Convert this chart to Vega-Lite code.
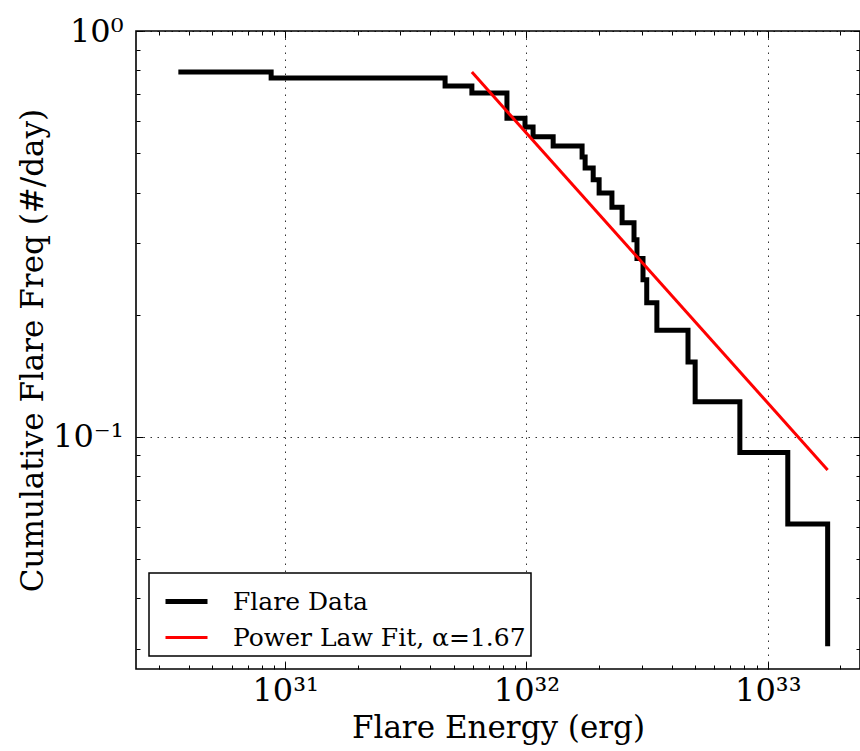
{
  "$schema": "https://vega.github.io/schema/vega-lite/v6.json",
  "width": 724,
  "height": 638,
  "autosize": {"type": "none"},
  "padding": {"left": 136, "top": 31, "right": 0, "bottom": 82},
  "background": "white",
  "config": {
    "font": "DejaVu Serif",
    "view": {"stroke": "black", "strokeWidth": 1.6},
    "axis": {"domain": false, "tickColor": "black", "tickWidth": 1, "labelColor": "black", "titleColor": "black", "labelFont": "DejaVu Serif", "titleFont": "DejaVu Serif", "titleFontWeight": "normal", "labelFlush": false, "labelOverlap": false},
    "legend": {"orient": "bottom-left", "offset": 13, "symbolType": "stroke", "symbolSize": 1764, "symbolOffset": 9, "labelFontSize": 25, "labelFont": "DejaVu Serif", "labelColor": "black", "labelOffset": 23, "padding": 5, "strokeColor": "black", "strokeWidth": 1.5, "fillColor": "white", "rowPadding": -6, "cornerRadius": 0, "labelLimit": 450}
  },
  "datasets": {
    "flare": [
      {"energy": 3.61e30, "freq": 0.793, "series": "Flare Data"},
      {"energy": 8.75e30, "freq": 0.766, "series": "Flare Data"},
      {"energy": 4.60e31, "freq": 0.732, "series": "Flare Data"},
      {"energy": 5.94e31, "freq": 0.703, "series": "Flare Data"},
      {"energy": 8.30e31, "freq": 0.610, "series": "Flare Data"},
      {"energy": 9.86e31, "freq": 0.580, "series": "Flare Data"},
      {"energy": 1.065e32, "freq": 0.549, "series": "Flare Data"},
      {"energy": 1.29e32, "freq": 0.521, "series": "Flare Data"},
      {"energy": 1.70e32, "freq": 0.489, "series": "Flare Data"},
      {"energy": 1.75e32, "freq": 0.460, "series": "Flare Data"},
      {"energy": 1.89e32, "freq": 0.430, "series": "Flare Data"},
      {"energy": 2.00e32, "freq": 0.399, "series": "Flare Data"},
      {"energy": 2.26e32, "freq": 0.368, "series": "Flare Data"},
      {"energy": 2.49e32, "freq": 0.337, "series": "Flare Data"},
      {"energy": 2.79e32, "freq": 0.306, "series": "Flare Data"},
      {"energy": 2.87e32, "freq": 0.275, "series": "Flare Data"},
      {"energy": 3.04e32, "freq": 0.244, "series": "Flare Data"},
      {"energy": 3.15e32, "freq": 0.214, "series": "Flare Data"},
      {"energy": 3.47e32, "freq": 0.183, "series": "Flare Data"},
      {"energy": 4.67e32, "freq": 0.153, "series": "Flare Data"},
      {"energy": 5.00e32, "freq": 0.122, "series": "Flare Data"},
      {"energy": 7.66e32, "freq": 0.0915, "series": "Flare Data"},
      {"energy": 1.21e33, "freq": 0.061, "series": "Flare Data"},
      {"energy": 1.77e33, "freq": 0.0305, "series": "Flare Data"}
    ],
    "fit": [
      {"energy": 5.94e31, "freq": 0.792, "series": "Power Law Fit, α=1.67"},
      {"energy": 1.77e33, "freq": 0.0829, "series": "Power Law Fit, α=1.67"}
    ]
  },
  "layer": [
    {
      "data": {"name": "flare"},
      "mark": {"type": "line", "interpolate": "step-after", "strokeCap": "butt", "strokeJoin": "miter"},
      "encoding": {
        "x": {"field": "energy", "type": "quantitative", "scale": {"type": "log", "domain": [2.41e30, 2.41e33], "nice": false},
          "axis": {"orient": "bottom", "values": [1e31, 1e32, 1e33], "labelExpr": "datum.value > 5e32 ? '10³³' : datum.value > 5e31 ? '10³²' : '10³¹'", "grid": true, "gridColor": "black", "gridDash": [1.5, 5.5], "gridWidth": 1, "gridOpacity": 0.8, "tickSize": -7, "labelFontSize": 32, "labelPadding": 13, "title": "Flare Energy (erg)", "titleFontSize": 31, "titlePadding": 7}},
        "y": {"field": "freq", "type": "quantitative", "scale": {"type": "log", "domain": [0.0268, 1], "nice": false},
          "axis": {"orient": "left", "values": [0.1, 1], "labelExpr": "datum.value > 0.5 ? '10⁰' : '10⁻¹'", "grid": true, "gridColor": "black", "gridDash": [1.5, 5.5], "gridWidth": 1, "gridOpacity": 0.8, "tickSize": -7, "labelFontSize": 32, "labelPadding": 20, "title": "Cumulative Flare Freq (#/day)", "titleFontSize": 31, "titlePadding": 3}},
        "color": {"field": "series", "type": "nominal", "scale": {"domain": ["Flare Data", "Power Law Fit, α=1.67"], "range": ["black", "red"]}, "legend": {"title": null}},
        "strokeWidth": {"field": "series", "type": "nominal", "scale": {"type": "ordinal", "domain": ["Flare Data", "Power Law Fit, α=1.67"], "range": [5, 3]}, "legend": {"title": null}}
      }
    },
    {
      "data": {"name": "fit"},
      "mark": {"type": "line"},
      "encoding": {
        "x": {"field": "energy", "type": "quantitative", "scale": {"type": "log", "domain": [2.41e30, 2.41e33], "nice": false},
          "axis": {"orient": "bottom", "values": [3e30, 4e30, 5e30, 6e30, 7e30, 8e30, 9e30, 2e31, 3e31, 4e31, 5e31, 6e31, 7e31, 8e31, 9e31, 2e32, 3e32, 4e32, 5e32, 6e32, 7e32, 8e32, 9e32, 2e33], "labels": false, "grid": false, "tickSize": -4, "title": null}},
        "y": {"field": "freq", "type": "quantitative", "scale": {"type": "log", "domain": [0.0268, 1], "nice": false},
          "axis": {"orient": "left", "values": [0.03, 0.04, 0.05, 0.06, 0.07, 0.08, 0.09, 0.2, 0.3, 0.4, 0.5, 0.6, 0.7, 0.8, 0.9], "labels": false, "grid": false, "tickSize": -4, "title": null}},
        "color": {"field": "series", "type": "nominal", "scale": {"domain": ["Flare Data", "Power Law Fit, α=1.67"], "range": ["black", "red"]}, "legend": {"title": null}},
        "strokeWidth": {"field": "series", "type": "nominal", "scale": {"type": "ordinal", "domain": ["Flare Data", "Power Law Fit, α=1.67"], "range": [5, 3]}, "legend": {"title": null}}
      }
    },
    {
      "data": {"name": "fit"},
      "mark": {"type": "line", "opacity": 0},
      "encoding": {
        "x": {"field": "energy", "type": "quantitative", "scale": {"type": "log", "domain": [2.41e30, 2.41e33], "nice": false},
          "axis": {"orient": "top", "values": [1e31, 1e32, 1e33], "labels": false, "grid": false, "tickSize": -7, "title": null}},
        "y": {"field": "freq", "type": "quantitative", "scale": {"type": "log", "domain": [0.0268, 1], "nice": false},
          "axis": {"orient": "right", "values": [0.1, 1], "labels": false, "grid": false, "tickSize": -7, "title": null}}
      }
    },
    {
      "data": {"name": "fit"},
      "mark": {"type": "line", "opacity": 0},
      "encoding": {
        "x": {"field": "energy", "type": "quantitative", "scale": {"type": "log", "domain": [2.41e30, 2.41e33], "nice": false},
          "axis": {"orient": "top", "values": [3e30, 4e30, 5e30, 6e30, 7e30, 8e30, 9e30, 2e31, 3e31, 4e31, 5e31, 6e31, 7e31, 8e31, 9e31, 2e32, 3e32, 4e32, 5e32, 6e32, 7e32, 8e32, 9e32, 2e33], "labels": false, "grid": false, "tickSize": -4, "title": null}},
        "y": {"field": "freq", "type": "quantitative", "scale": {"type": "log", "domain": [0.0268, 1], "nice": false},
          "axis": {"orient": "right", "values": [0.03, 0.04, 0.05, 0.06, 0.07, 0.08, 0.09, 0.2, 0.3, 0.4, 0.5, 0.6, 0.7, 0.8, 0.9], "labels": false, "grid": false, "tickSize": -4, "title": null}}
      }
    }
  ],
  "resolve": {"axis": {"x": "independent", "y": "independent"}}
}
